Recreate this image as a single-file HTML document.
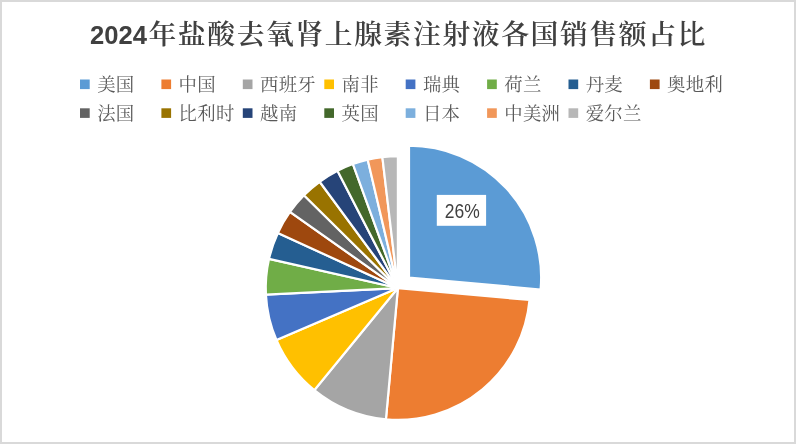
<!DOCTYPE html>
<html lang="zh-CN"><head><meta charset="utf-8"><title>2024年盐酸去氧肾上腺素注射液各国销售额占比</title>
<style>
html,body{margin:0;padding:0;background:#fff;}
body{width:796px;height:444px;overflow:hidden;position:relative;}
.frame{position:absolute;left:0;top:0;width:796px;height:444px;box-sizing:border-box;border:2px solid #D9D9D9;border-width:2px 2px 2px 2px;}
svg{position:absolute;left:0;top:0;}
.title{font-family:"Liberation Sans","Noto Serif CJK SC",serif;font-weight:bold;fill:#404040;}
.title .cn{font-family:"Noto Serif CJK SC",serif;font-size:27.8px;font-weight:600;letter-spacing:1.6px;}
.title .num{font-family:"Liberation Sans",sans-serif;font-size:25.6px;font-weight:700;}
.legend text{font-family:"Liberation Serif","Noto Serif CJK SC",serif;font-size:18.4px;fill:#595959;letter-spacing:0.25px;}
.lbl{font-family:"Liberation Sans",sans-serif;font-size:19.4px;fill:#404040;}
</style></head><body>
<div class="frame"></div>
<svg width="796" height="444" viewBox="0 0 796 444">
<text class="title" x="90" y="43.5"><tspan class="num">2024</tspan><tspan class="cn" dx="1.5">年盐酸去氧肾上腺素注射液各国销售额占比</tspan></text>
<g class="legend">
<rect x="80.0" y="79.5" width="9.7" height="9.6" fill="#5B9BD5"/>
<text x="97.2" y="91.1">美国</text>
<rect x="161.4" y="79.5" width="9.7" height="9.6" fill="#ED7D31"/>
<text x="178.6" y="91.1">中国</text>
<rect x="242.8" y="79.5" width="9.7" height="9.6" fill="#A5A5A5"/>
<text x="260.0" y="91.1">西班牙</text>
<rect x="324.3" y="79.5" width="9.7" height="9.6" fill="#FFC000"/>
<text x="341.5" y="91.1">南非</text>
<rect x="405.7" y="79.5" width="9.7" height="9.6" fill="#4472C4"/>
<text x="422.9" y="91.1">瑞典</text>
<rect x="487.1" y="79.5" width="9.7" height="9.6" fill="#70AD47"/>
<text x="504.3" y="91.1">荷兰</text>
<rect x="568.5" y="79.5" width="9.7" height="9.6" fill="#255E91"/>
<text x="585.7" y="91.1">丹麦</text>
<rect x="649.9" y="79.5" width="9.7" height="9.6" fill="#9E480E"/>
<text x="667.1" y="91.1">奥地利</text>
<rect x="80.0" y="108.3" width="9.7" height="9.6" fill="#636363"/>
<text x="97.2" y="119.9">法国</text>
<rect x="161.4" y="108.3" width="9.7" height="9.6" fill="#997300"/>
<text x="178.6" y="119.9">比利时</text>
<rect x="242.8" y="108.3" width="9.7" height="9.6" fill="#264478"/>
<text x="260.0" y="119.9">越南</text>
<rect x="324.3" y="108.3" width="9.7" height="9.6" fill="#43682B"/>
<text x="341.5" y="119.9">英国</text>
<rect x="405.7" y="108.3" width="9.7" height="9.6" fill="#7CAFDD"/>
<text x="422.9" y="119.9">日本</text>
<rect x="487.1" y="108.3" width="9.7" height="9.6" fill="#F1975A"/>
<text x="504.3" y="119.9">中美洲</text>
<rect x="568.5" y="108.3" width="9.7" height="9.6" fill="#B7B7B7"/>
<text x="585.7" y="119.9">爱尔兰</text>
</g>
<g stroke="#fff" stroke-width="2.2" stroke-linejoin="miter">
<path d="M409.00 277.55L409.00 145.65A132.15 131.9 0 0 1 540.61 289.50Z" fill="#5B9BD5"/>
<path d="M397.90 288.05L529.51 300.00A132.15 131.9 0 0 1 385.92 419.41Z" fill="#ED7D31"/>
<path d="M397.90 288.05L385.92 419.41A132.15 131.9 0 0 1 314.29 390.19Z" fill="#A5A5A5"/>
<path d="M397.90 288.05L314.29 390.19A132.15 131.9 0 0 1 276.44 340.01Z" fill="#FFC000"/>
<path d="M397.90 288.05L276.44 340.01A132.15 131.9 0 0 1 265.92 294.72Z" fill="#4472C4"/>
<path d="M397.90 288.05L265.92 294.72A132.15 131.9 0 0 1 269.03 258.83Z" fill="#70AD47"/>
<path d="M397.90 288.05L269.03 258.83A132.15 131.9 0 0 1 277.84 232.93Z" fill="#255E91"/>
<path d="M397.90 288.05L277.84 232.93A132.15 131.9 0 0 1 289.98 211.92Z" fill="#9E480E"/>
<path d="M397.90 288.05L289.98 211.92A132.15 131.9 0 0 1 303.97 195.27Z" fill="#636363"/>
<path d="M397.90 288.05L303.97 195.27A132.15 131.9 0 0 1 319.67 181.75Z" fill="#997300"/>
<path d="M397.90 288.05L319.67 181.75A132.15 131.9 0 0 1 337.49 170.74Z" fill="#264478"/>
<path d="M397.90 288.05L337.49 170.74A132.15 131.9 0 0 1 352.92 164.03Z" fill="#43682B"/>
<path d="M397.90 288.05L352.92 164.03A132.15 131.9 0 0 1 367.72 159.63Z" fill="#7CAFDD"/>
<path d="M397.90 288.05L367.72 159.63A132.15 131.9 0 0 1 382.37 157.06Z" fill="#F1975A"/>
<path d="M397.90 288.05L382.37 157.06A132.15 131.9 0 0 1 397.90 156.15Z" fill="#B7B7B7"/>
</g>
<rect x="436.8" y="194.9" width="49.3" height="30.9" fill="#fff"/>
<text class="lbl" x="444.8" y="218.1" textLength="35" lengthAdjust="spacingAndGlyphs">26%</text>
</svg>
</body></html>
